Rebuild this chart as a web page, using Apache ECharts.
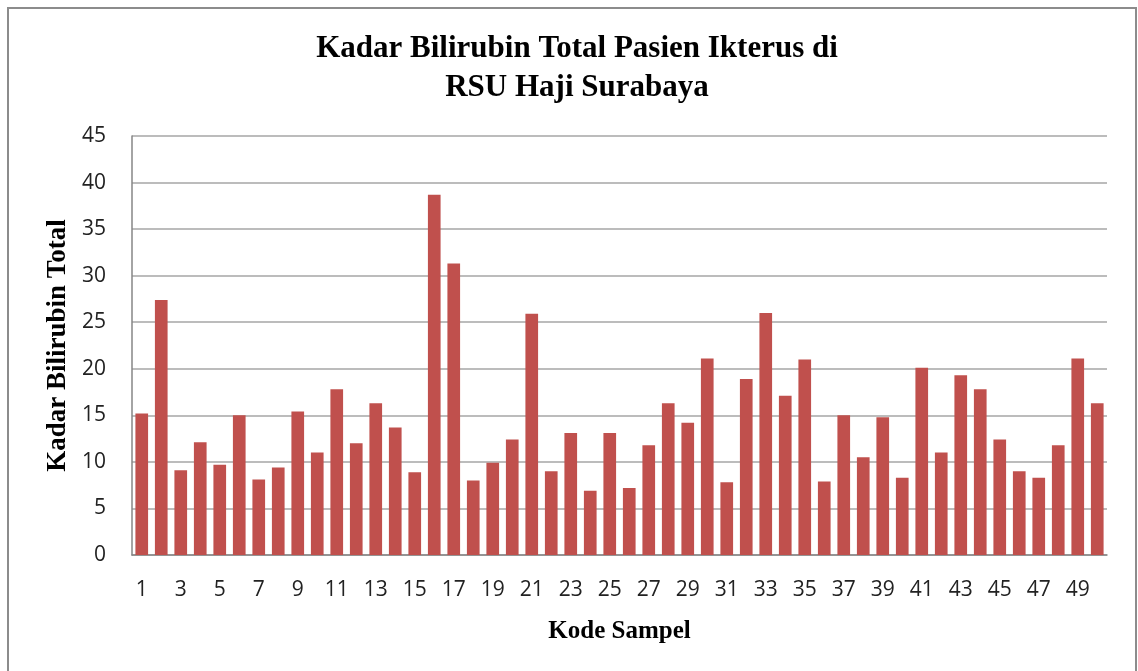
<!DOCTYPE html>
<html>
<head>
<meta charset="utf-8">
<script src="https://cdn.jsdelivr.net/npm/echarts@6/dist/echarts.min.js"></script>
<style>
  html, body { margin: 0; padding: 0; background: #fff; }
  #chart { width: 1138px; height: 671px; }
</style>
</head>
<body>
<div id="chart"></div>
<script>
// Kode sampel 1..50
const sampleCodes = [];
for (let i = 1; i <= 50; i++) sampleCodes.push(String(i));

// Kadar bilirubin total
const bilirubin = [
  15.2, 27.4, 9.1, 12.1, 9.7, 15.0, 8.1, 9.4, 15.4, 11.0,
  17.8, 12.0, 16.3, 13.7, 8.9, 38.7, 31.3, 8.0, 9.9, 12.4,
  25.9, 9.0, 13.1, 6.9, 13.1, 7.2, 11.8, 16.3, 14.2, 21.1,
  7.8, 18.9, 26.0, 17.1, 21.0, 7.9, 15.0, 10.5, 14.8, 8.3,
  20.1, 11.0, 19.3, 17.8, 12.4, 9.0, 8.3, 11.8, 21.1, 16.3
];

const titleText = 'Kadar Bilirubin Total Pasien Ikterus di\nRSU Haji Surabaya';
const yName = 'Kadar Bilirubin Total';
const xName = 'Kode Sampel';

const chart = echarts.init(document.getElementById('chart'));

const serifBold = {
  fontFamily: '"Liberation Serif", "Times New Roman", serif',
  fontWeight: 'bold',
  color: '#000'
};

const option = {
  animation: false,
  backgroundColor: '#fff',
  title: {
    text: titleText,
    left: 572,
    top: 24,
    textAlign: 'center',
    textStyle: Object.assign({ fontSize: 31, lineHeight: 39 }, serifBold)
  },
  graphic: [
    {
      type: 'rect',
      shape: { x: 8, y: 8, width: 1128, height: 700 },
      style: { fill: 'none', stroke: '#8c8c8c', lineWidth: 2 },
      silent: true
    }
  ],
  grid: { left: 132, right: 31, top: 136, bottom: 116 },
  xAxis: {
    type: 'category',
    data: sampleCodes,
    name: xName,
    nameLocation: 'middle',
    nameGap: 64,
    nameTextStyle: Object.assign({ fontSize: 25 }, serifBold),
    axisLine: { lineStyle: { color: '#868686', width: 1.5 } },
    axisTick: { show: false },
    axisLabel: {
      interval: 1,
      margin: 25,
      fontSize: 21,
      fontFamily: '"Open Sans", sans-serif',
      color: '#222'
    }
  },
  yAxis: {
    type: 'value',
    min: 0,
    max: 45,
    interval: 5,
    name: yName,
    nameLocation: 'middle',
    nameGap: 53,
    nameTextStyle: Object.assign({ fontSize: 27 }, serifBold),
    axisLine: { show: true, lineStyle: { color: '#868686', width: 1.5 } },
    axisTick: { show: false },
    axisLabel: {
      margin: 26,
      fontSize: 21,
      fontFamily: '"Open Sans", sans-serif',
      color: '#222'
    },
    splitLine: { lineStyle: { color: '#a6a6a6', width: 1.5 } }
  },
  series: [
    {
      type: 'bar',
      data: bilirubin,
      barCategoryGap: '35%',
      itemStyle: { color: '#C0504D' }
    }
  ]
};

chart.setOption(option);
</script>
</body>
</html>
